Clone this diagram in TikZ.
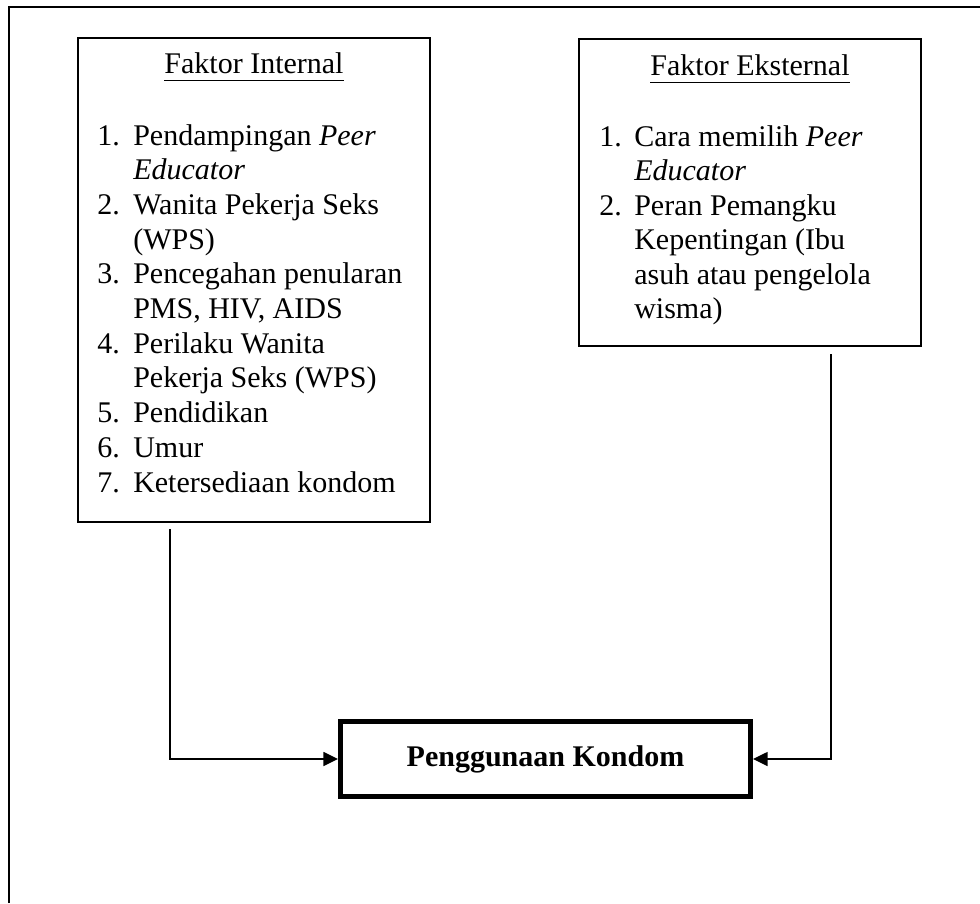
\documentclass[tikz,border=0pt]{standalone}
\usepackage{fontspec}
\setmainfont{Liberation Serif}
\usetikzlibrary{arrows.meta}
\newcommand\ulhead[1]{\underline{\smash[b]{\strut}\vphantom{#1}}\llap{#1}}
\begin{document}
\begin{tikzpicture}[x=0.75pt,y=-0.75pt,
  txt/.style={inner sep=0pt,anchor=base west,font=\fontsize{22.5}{26}\selectfont},
  head/.style={inner sep=0pt,anchor=base,font=\fontsize{22.5}{26}\selectfont},
  factbox/.style={draw,line width=1.5pt,inner sep=0pt},
  mainbox/.style={draw,line width=3.75pt,inner sep=0pt,minimum width=307.5pt,minimum height=56.25pt,font=\fontsize{22.5}{26}\selectfont\bfseries},
  conn/.style={line width=1.2pt,-{Triangle[length=11pt,width=10.5pt]}}]
\useasboundingbox (0,0) rectangle (980,903);
% outer frame (only left and top edges visible)
\draw[line width=1.5pt] (9,903) -- (9,7) -- (980,7);
% boxes
\node[factbox,minimum width=264pt,minimum height=363pt] (intbox) at (254,280) {};
\node[factbox,minimum width=256.5pt,minimum height=230.25pt] (extbox) at (750,192.5) {};
\node[mainbox] (main) at (545.5,759) {Penggunaan Kondom};
% headings
\node[head] (inth) at (254,73) {Faktor Internal};
\node[head] (exth) at (750,75) {Faktor Eksternal};
\draw[line width=1.1pt] ([yshift=-5.5pt]inth.base west) -- ([yshift=-5.5pt]inth.base east);
\draw[line width=1.1pt] ([yshift=-5.5pt]exth.base west) -- ([yshift=-5.5pt]exth.base east);
% internal list
\node[txt] (in1) at (97,145) {1.};
\node[txt] (it1a) at (133,145) {Pendampingan \textit{Peer}};
\node[txt] (it1b) at (133,179.7) {\textit{Educator}};
\node[txt] (in2) at (97,214.4) {2.};
\node[txt] (it2a) at (133,214.4) {Wanita Pekerja Seks};
\node[txt] (it2b) at (133,249.1) {(WPS)};
\node[txt] (in3) at (97,283.8) {3.};
\node[txt] (it3a) at (133,283.8) {Pencegahan penularan};
\node[txt] (it3b) at (133,318.5) {PMS, HIV, AIDS};
\node[txt] (in4) at (97,353.2) {4.};
\node[txt] (it4a) at (133,353.2) {Perilaku Wanita};
\node[txt] (it4b) at (133,387.9) {Pekerja Seks (WPS)};
\node[txt] (in5) at (97,422.6) {5.};
\node[txt] (it5) at (133,422.6) {Pendidikan};
\node[txt] (in6) at (97,457.3) {6.};
\node[txt] (it6) at (133,457.3) {Umur};
\node[txt] (in7) at (97,492) {7.};
\node[txt] (it7) at (133,492) {Ketersediaan kondom};
% external list
\node[txt] (en1) at (599,146) {1.};
\node[txt] (et1a) at (634,146) {Cara memilih \textit{Peer}};
\node[txt] (et1b) at (634,180.5) {\textit{Educator}};
\node[txt] (en2) at (599,215) {2.};
\node[txt] (et2a) at (634,215) {Peran Pemangku};
\node[txt] (et2b) at (634,249.5) {Kepentingan (Ibu};
\node[txt] (et2c) at (634,284) {asuh atau pengelola};
\node[txt] (et2d) at (634,318.5) {wisma)};
% connectors
\coordinate (inS) at (170,529);
\coordinate (exS) at (831,354);
\draw[conn] (inS) |- (main.west);
\draw[conn] (exS) |- (main.east);
\end{tikzpicture}
\end{document}
